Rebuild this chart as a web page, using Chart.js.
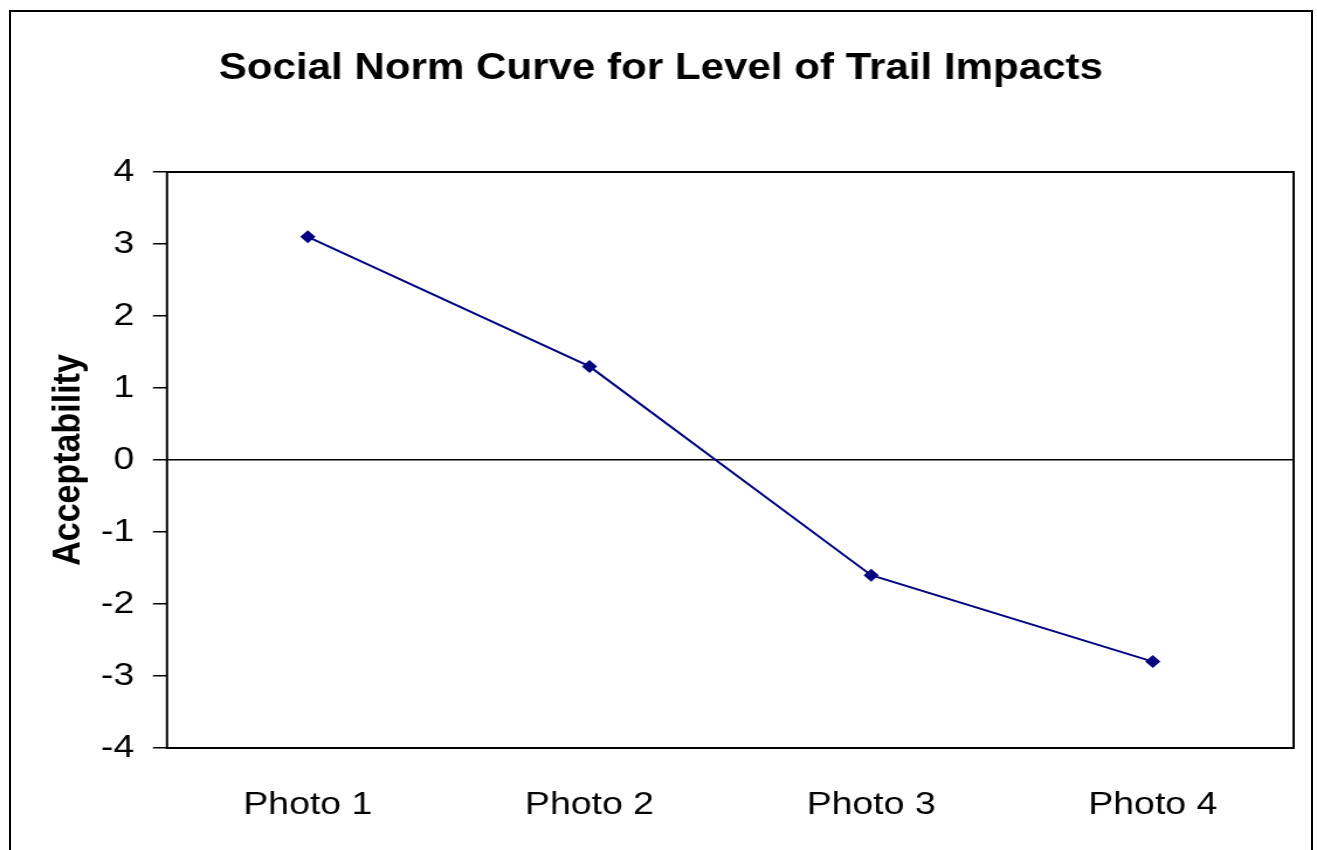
<!DOCTYPE html>
<html>
<head>
<meta charset="utf-8">
<script src="https://cdn.jsdelivr.net/npm/chart.js@4/dist/chart.umd.min.js"></script>
<style>
  html, body { margin: 0; padding: 0; background: #fff; overflow: hidden; }
  #frame { position: absolute; left: 9px; top: 10px; width: 1300px; height: 900px; border: 2px solid #000; }
  #chart { position: absolute; left: 0; top: 0; }
</style>
</head>
<body>
<div id="frame"></div>
<canvas id="chart" width="1126" height="850" style="width:1317px;height:850px"></canvas>
<script>
// data
const categories = ['Photo 1', 'Photo 2', 'Photo 3', 'Photo 4'];
const acceptability = [3.1, 1.3, -1.6, -2.8];
const yTicks = { min: -4, max: 4, step: 1 };

// the source picture is stretched sideways, so the canvas is drawn narrow and widened by css
const STRETCH = 1317 / 1126;
const LEFT_PAD = 24;
const fontFamily = '"Liberation Sans", Arial, sans-serif';
const navy = '#000080';

const plotFrame = {
  id: 'plotFrame',
  beforeDatasetsDraw(chart) {
    const { ctx, chartArea: a } = chart;
    ctx.save();
    ctx.strokeStyle = '#000';
    ctx.lineWidth = 2;
    ctx.strokeRect(a.left, a.top, a.right - a.left, a.bottom - a.top);
    ctx.restore();
  }
};

new Chart(document.getElementById('chart'), {
  type: 'line',
  data: {
    labels: categories,
    datasets: [{
      label: 'Acceptability',
      data: acceptability,
      borderColor: navy,
      backgroundColor: navy,
      borderWidth: 2,
      pointStyle: 'rectRot',
      pointRadius: 6.5,
      pointBorderWidth: 0,
      tension: 0,
      fill: false
    }]
  },
  options: {
    responsive: false,
    animation: false,
    devicePixelRatio: 1,
    layout: { padding: { left: LEFT_PAD, right: 20, top: 0, bottom: 0 } },
    plugins: {
      legend: { display: false },
      tooltip: { enabled: false },
      title: {
        display: true,
        text: 'Social Norm Curve for Level of Trail Impacts',
        color: '#000',
        font: { family: fontFamily, size: 36, weight: 'bold', lineHeight: 1.2 },
        padding: { top: 47, bottom: 81.8 }
      }
    },
    scales: {
      x: {
        offset: true,
        grid: { display: false, drawTicks: false },
        border: { display: false },
        ticks: {
          color: '#000',
          padding: 38,
          maxRotation: 0,
          font: { family: fontFamily, size: 32 }
        },
        afterFit(scale) { scale.height = 102; }
      },
      y: {
        min: yTicks.min,
        max: yTicks.max,
        border: { display: false },
        grid: {
          color: c => (c.tick && c.tick.value === 0 ? '#000' : 'rgba(0,0,0,0)'),
          lineWidth: 1.5,
          tickColor: '#000',
          tickLength: 12,
          drawTicks: true
        },
        ticks: {
          stepSize: yTicks.step,
          color: '#000',
          padding: 16,
          font: { family: fontFamily, size: 32 }
        },
        title: {
          display: true,
          text: 'Acceptability',
          color: '#000',
          font: { family: fontFamily, size: 34, weight: 'bold', lineHeight: 1.2 },
          padding: { top: 38 - LEFT_PAD, bottom: 0 }
        },
        afterFit(scale) { scale.width = 167 / STRETCH - LEFT_PAD; }
      }
    }
  },
  plugins: [plotFrame]
});
</script>
</body>
</html>
